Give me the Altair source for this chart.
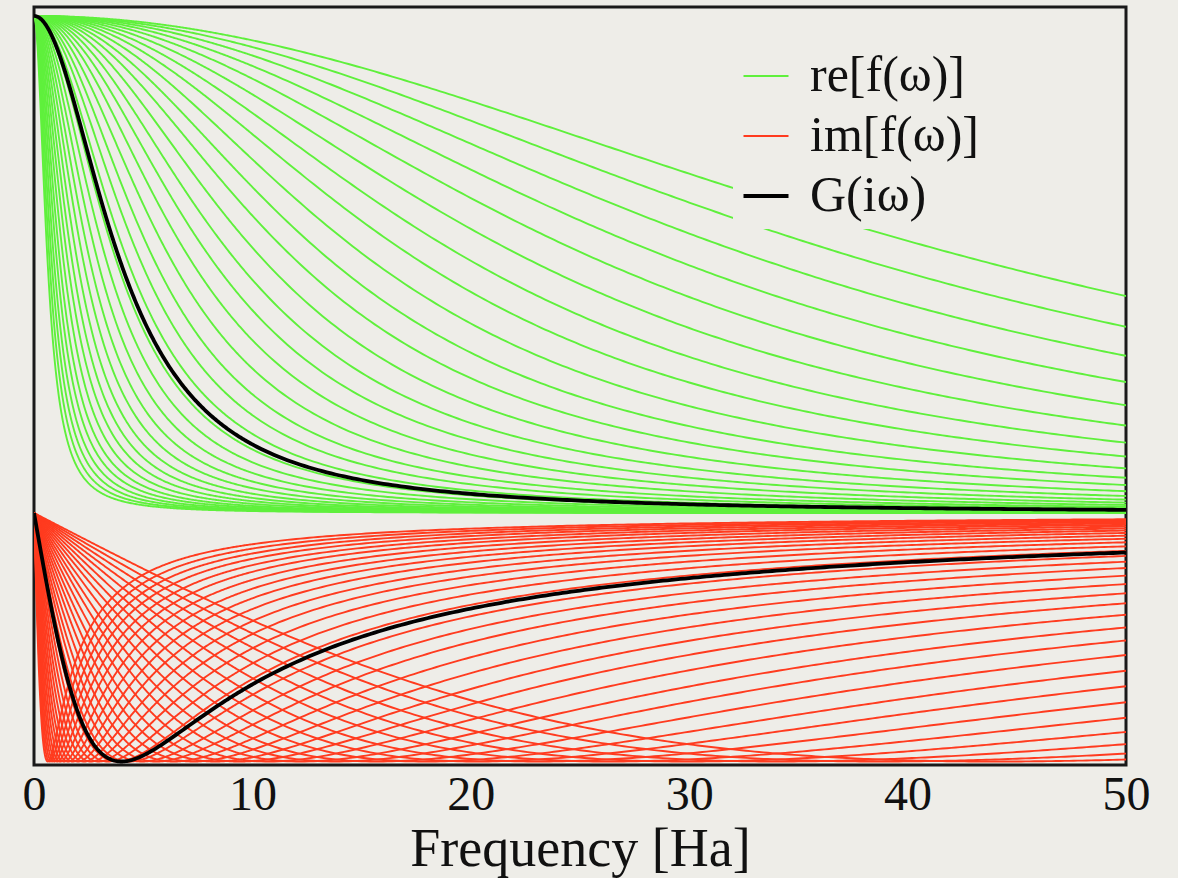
import numpy as np
import pandas as pd
import altair as alt

# Lorentzian widths (Ha) of the family of f(omega) curves
WIDTHS = [44.0, 38.7, 34.0, 29.9, 26.3, 23.1, 20.3, 17.9, 15.7, 13.8, 12.2, 10.7,
          9.4, 8.3, 7.3, 6.4, 5.6, 4.95, 4.35, 3.83, 3.37, 2.96, 2.6, 2.29, 2.01,
          1.77, 1.56, 1.37, 1.2, 1.06, 0.93, 0.82, 0.72, 0.63]
G_WIDTH = 4.0  # width of G(i omega)

SERIES = ["re[f(ω)]", "im[f(ω)]", "G(iω)"]
COLORS = ["#5ff03c", "#ff3b1f", "#000000"]
WIDTH_PX = [1.9, 1.9, 3.8]
X_TICKS = [0, 10, 20, 30, 40, 50]

omega = np.unique(np.concatenate([
    np.linspace(0, 2, 81), np.linspace(2, 10, 161), np.linspace(10, 50, 201)]))

rows = []
for i, a in enumerate(WIDTHS):
    re = a * a / (a * a + omega ** 2)
    im = -a * omega / (a * a + omega ** 2)
    for w, r, m in zip(omega, re, im):
        rows.append({"w": w, "v": r, "series": SERIES[0], "curve": f"r{i}"})
        rows.append({"w": w, "v": m, "series": SERIES[1], "curve": f"i{i}"})
fam = pd.DataFrame(rows)

g_rows = []
a = G_WIDTH
for w in omega:
    g_rows.append({"w": w, "v": a * a / (a * a + w * w), "series": SERIES[2], "curve": "gr"})
    g_rows.append({"w": w, "v": -a * w / (a * a + w * w), "series": SERIES[2], "curve": "gi"})
gdf = pd.DataFrame(g_rows)

PAPER = "#eeede8"
FONT = "Liberation Serif"

legend_kw = dict(title=None, orient="none", legendX=699, legendY=36,
                 symbolType="stroke", symbolSize=2025,
                 labelFont=FONT, labelFontSize=50, labelColor="#111", labelLimit=0,
                 labelOffset=19, rowPadding=10, padding=8, fillColor=PAPER)

x = alt.X("w:Q", scale=alt.Scale(domain=[0, 50], nice=False, zero=False),
          axis=alt.Axis(values=X_TICKS, ticks=False, grid=False, domain=False,
                        labelFont=FONT, labelFontSize=48, labelColor="#111",
                        labelPadding=6, labelFlush=False,
                        title="Frequency [Ha]", titleFont=FONT, titleFontSize=54,
                        titleFontWeight="normal", titleColor="#111",
                        titleBaseline="alphabetic", titleY=100))
y = alt.Y("v:Q", scale=alt.Scale(domain=[-0.507, 1.018], nice=False, zero=False),
          axis=None)
color = alt.Color("series:N", scale=alt.Scale(domain=SERIES, range=COLORS),
                  legend=alt.Legend(**legend_kw))
sw = alt.StrokeWidth("series:N",
                     scale=alt.Scale(type="ordinal", domain=SERIES, range=WIDTH_PX),
                     legend=alt.Legend(**legend_kw))

family = alt.Chart(fam).mark_line(clip=True).encode(
    x=x, y=y, color=color, strokeWidth=sw, detail="curve:N")
gline = alt.Chart(gdf).mark_line(clip=True).encode(
    x=x, y=y, color=color, strokeWidth=sw, detail="curve:N")

chart = alt.layer(family, gline).properties(
    width=1092, height=758, background=PAPER,
    autosize=alt.AutoSizeParams(type="none"),
    padding={"left": 34, "top": 7, "right": 52, "bottom": 113},
).configure_view(stroke="#1a1a1a", strokeWidth=3, fill=PAPER)

chart.save("out.html", embed_options={"renderer": "svg", "actions": False})
